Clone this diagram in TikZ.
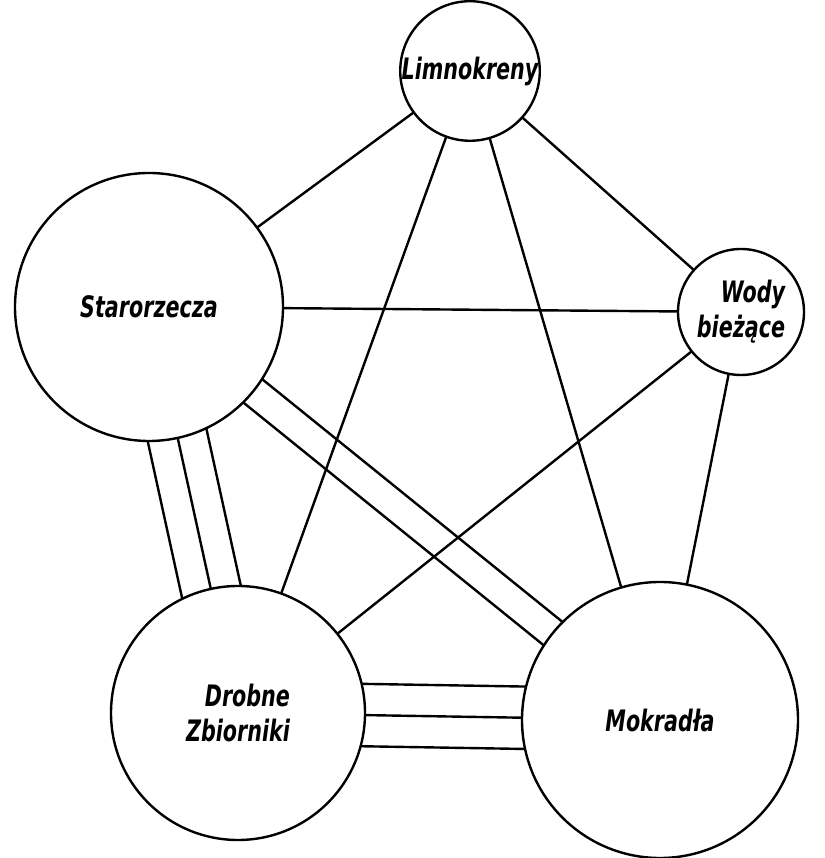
\documentclass[tikz,border=0pt]{standalone}
\usepackage{fontspec}
\newfontfamily\tagfont[FakeStretch=0.7]{DejaVu Sans}
\usetikzlibrary{calc,backgrounds}
\def\offlink(#1)(#2)(#3){\draw ($(#1)!#3!90:(#2)$) -- ($(#2)!#3!-90:(#1)$);}

\begin{document}
\begin{tikzpicture}[
		pool/.style={draw, circle, fill=white, line width=0.6mm, inner sep=0pt,
			font=\tagfont\bfseries\itshape\fontsize{21}{25}\selectfont, align=right},
		link/.style={line width=0.6mm}]
		%%%%% START %%%%%
		
		\useasboundingbox (0, 0) rectangle (20.6, 21.45);
		
		\node[pool, minimum size=3.15cm] (lim) at (11.75, 19.675) {Limnokreny};
		\node[pool, minimum size=6.7cm] (sta) at (3.725, 13.775) {Starorzecza};
		\node[pool, minimum size=3.15cm] (wod) at (18.525, 13.65) {Wody\\bieżące};
		\node[pool, minimum size=6.35cm] (dro) at (5.95, 3.625) {Drobne\\Zbiorniki};
		\node[pool, minimum size=6.9cm] (mok) at (16.5, 3.45) {Mokradła};
		
		\begin{pgfonlayer}{background}
			\begin{scope}[link]
				\draw (lim.center) -- (sta.center);
				\draw (lim.center) -- (wod.center);
				\draw (lim.center) -- (dro.center);
				\draw (lim.center) -- (mok.center);
				\draw (sta.center) -- (wod.center);
				\draw (wod.center) -- (dro.center);
				\draw (wod.center) -- (mok.center);
				
				% triple: Starorzecza - Drobne Zbiorniki
				\offlink(sta.center)(dro.center)(0.75cm)
				\draw (sta.center) -- (dro.center);
				\offlink(sta.center)(dro.center)(-0.75cm)
				
				% double: Starorzecza - Mokradla
				\offlink(sta.center)(mok.center)(0.375cm)
				\offlink(sta.center)(mok.center)(-0.375cm)
				
				% triple: Drobne Zbiorniki - Mokradla
				\offlink(dro.center)(mok.center)(0.78cm)
				\draw (dro.center) -- (mok.center);
				\offlink(dro.center)(mok.center)(-0.78cm)
			\end{scope}
		\end{pgfonlayer}
		
		%%%%% END %%%%%
	\end{tikzpicture}
\end{document}
